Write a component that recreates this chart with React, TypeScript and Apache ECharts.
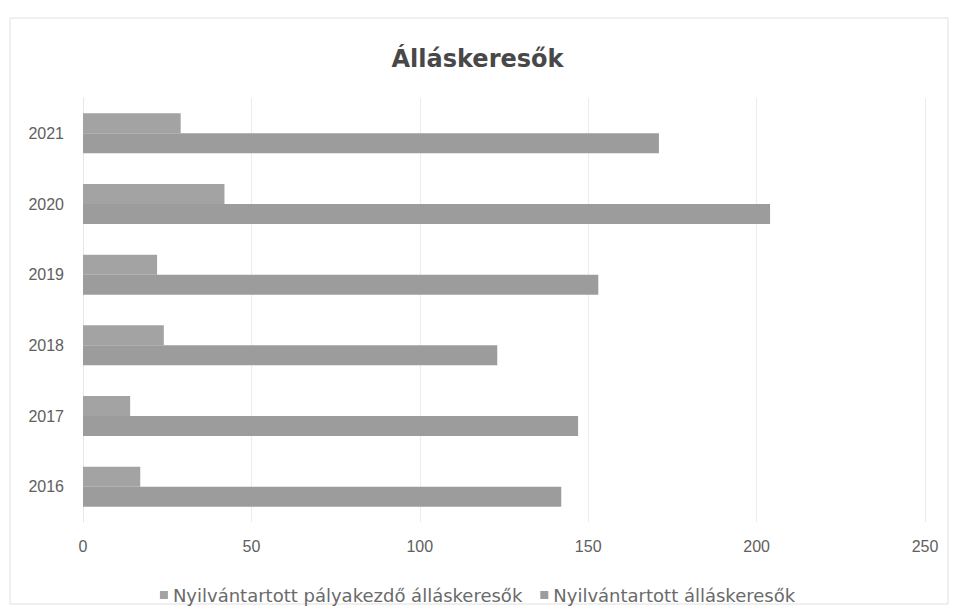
import React, { useEffect, useRef } from "react";
import * as echarts from "echarts";

const years = ["2016", "2017", "2018", "2019", "2020", "2021"];
const seriesNames = ["Nyilvántartott pályakezdő álláskeresők", "Nyilvántartott álláskeresők"];
const palyakezdo = [17, 14, 24, 22, 42, 29];
const osszes = [142, 147, 123, 153, 204, 171];

export default function App() {
  const ref = useRef<HTMLDivElement>(null);
  useEffect(() => {
    if (!ref.current) return;
    const chart = echarts.init(ref.current, null, { renderer: "svg" });
    const font = "'Liberation Sans', 'DejaVu Sans', sans-serif";
    chart.setOption({
      animation: false,
      backgroundColor: "#ffffff",
      title: {
        text: "Álláskeresők",
        left: "center",
        top: 42,
        textStyle: { fontFamily: "'DejaVu Sans', sans-serif", fontSize: 24, fontWeight: "bold", color: "#484848" },
      },
      graphic: [
        { type: "rect", shape: { x: 10, y: 18, width: 938, height: 586 }, style: { fill: "none", stroke: "#e0e0e0", lineWidth: 1 } },
      ],
      legend: {
        bottom: 3,
        left: "center",
        itemWidth: 8,
        itemHeight: 8,
        itemGap: 18,
        icon: "rect",
        textStyle: { fontFamily: "'DejaVu Sans', sans-serif", fontSize: 18, color: "#6a6a6a" },
        data: seriesNames,
      },
      grid: { left: 83, right: 30, top: 98, bottom: 90 },
      xAxis: {
        type: "value",
        min: 0,
        max: 250,
        interval: 50,
        axisLine: { show: false },
        axisTick: { show: false },
        splitLine: { show: true, lineStyle: { color: "#ececec", width: 1 } },
        axisLabel: { fontFamily: font, fontSize: 16, color: "#606060", margin: 16 },
      },
      yAxis: {
        type: "category",
        data: years,
        axisLine: { show: true, lineStyle: { color: "#e6e6e6" } },
        axisTick: { show: false },
        axisLabel: { fontFamily: font, fontSize: 16, color: "#606060", margin: 19 },
      },
      series: [
        {
          name: seriesNames[0],
          type: "bar",
          data: palyakezdo,
          barWidth: 20,
          barGap: "0%",
          itemStyle: { color: "#a3a3a3" },
        },
        {
          name: seriesNames[1],
          type: "bar",
          data: osszes,
          barWidth: 20,
          barGap: "0%",
          itemStyle: { color: "#9c9c9c" },
        },
      ],
    });
    return () => chart.dispose();
  }, []);
  return <div ref={ref} style={{ position: "fixed", left: 0, top: 0, width: 955, height: 612 }} />;
}
